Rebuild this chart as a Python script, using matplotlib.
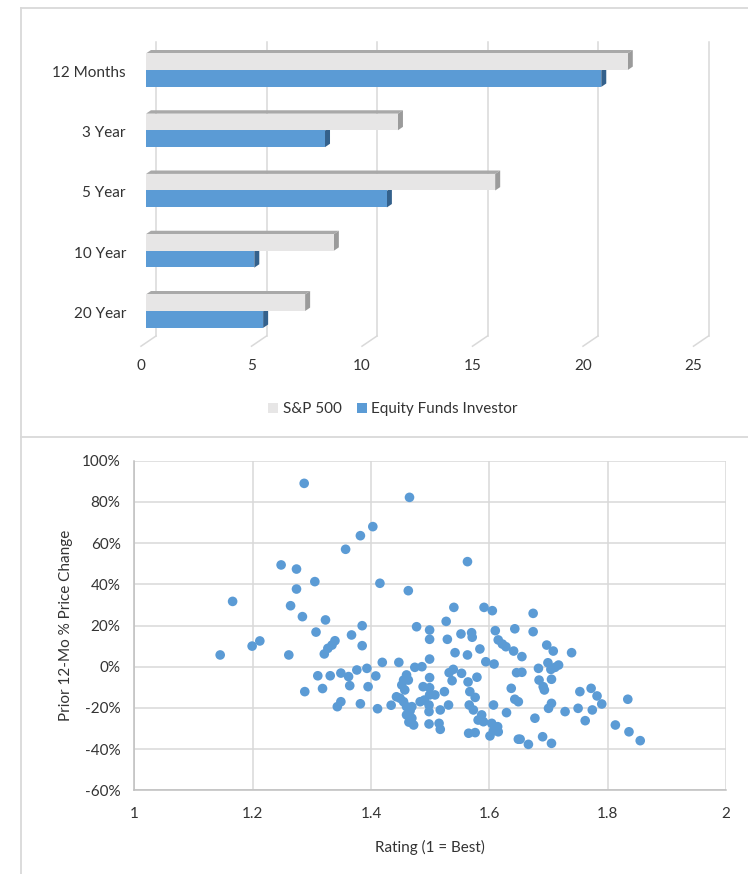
import matplotlib
matplotlib.use("Agg")
import matplotlib.pyplot as plt
from matplotlib.patches import Polygon, Patch
from matplotlib.lines import Line2D

plt.rcParams['font.family'] = ['Lato', 'DejaVu Sans']

# ---------------- data ----------------
periods = ["12 Months", "3 Year", "5 Year", "10 Year", "20 Year"]
sp500 = [21.8, 11.4, 15.8, 8.5, 7.2]
equity_investor = [20.6, 8.1, 10.9, 4.9, 5.3]
bar_ticks = [0, 5, 10, 15, 20, 25]

ratings = [
    1.287, 1.465, 1.403, 1.382, 1.357, 1.248, 1.274, 1.305, 1.415, 1.463,
    1.274, 1.166, 1.264, 1.284, 1.323, 1.385, 1.477, 1.307, 1.367, 1.339,
    1.334, 1.327, 1.321, 1.385, 1.199, 1.212, 1.145, 1.261, 1.288, 1.419,
    1.447, 1.310, 1.331, 1.349, 1.362, 1.376, 1.393, 1.408, 1.364, 1.395,
    1.318, 1.349, 1.343, 1.382, 1.411, 1.434, 1.474, 1.486, 1.460, 1.455,
    1.452, 1.457, 1.443, 1.449, 1.455, 1.460, 1.469, 1.460, 1.469, 1.472,
    1.483, 1.490, 1.488, 1.466, 1.463, 1.464, 1.499, 1.499, 1.540, 1.591,
    1.605, 1.527, 1.529, 1.552, 1.570, 1.571, 1.610, 1.643, 1.584, 1.542,
    1.563, 1.615, 1.622, 1.628, 1.641, 1.655, 1.499, 1.594, 1.608, 1.646,
    1.539, 1.532, 1.553, 1.499, 1.579, 1.537, 1.564, 1.499, 1.637, 1.524,
    1.508, 1.567, 1.576, 1.643, 1.531, 1.566, 1.607, 1.498, 1.498, 1.517,
    1.573, 1.587, 1.581, 1.590, 1.629, 1.498, 1.515, 1.517, 1.604, 1.614,
    1.607, 1.615, 1.601, 1.565, 1.576, 1.649, 1.499, 1.674, 1.674, 1.697,
    1.708, 1.739, 1.699, 1.711, 1.717, 1.704, 1.683, 1.655, 1.684, 1.691,
    1.693, 1.705, 1.753, 1.772, 1.782, 1.790, 1.649, 1.705, 1.700, 1.728,
    1.750, 1.774, 1.762, 1.677, 1.813, 1.652, 1.666, 1.690, 1.705, 1.834,
    1.836, 1.855, 1.563,
]
price_change = [
    89.0, 82.2, 68.0, 63.6, 57.0, 49.4, 47.4, 41.3, 40.5, 36.9,
    37.7, 31.7, 29.6, 24.3, 22.7, 19.9, 19.4, 16.8, 15.4, 12.6,
    10.5, 8.9, 6.2, 10.2, 10.0, 12.5, 5.7, 5.7, -12.1, 2.1,
    2.1, -4.4, -4.4, -3.1, -4.8, -1.6, -0.8, -4.5, -9.2, -9.7,
    -10.6, -17.0, -19.4, -18.0, -20.4, -18.7, -0.3, 0.0, -4.0, -6.5,
    -8.9, -11.3, -14.6, -15.3, -17.0, -19.4, -19.4, -23.4, -25.0, -28.3,
    -17.0, -16.2, -9.7, -21.4, -6.5, -26.9, 17.8, 13.3, 28.8, 28.8,
    27.2, 22.0, 13.3, 15.9, 16.5, 14.3, 17.5, 18.4, 8.6, 6.8,
    5.7, 13.0, 11.0, 9.7, 7.6, 4.9, 3.7, 2.4, 1.3, -2.9,
    -1.3, -2.9, -3.2, -5.3, -5.1, -6.8, -7.4, -10.2, -10.5, -12.1,
    -13.7, -12.1, -14.9, -15.8, -18.6, -18.6, -18.6, -18.6, -21.8, -21.0,
    -21.0, -23.4, -25.9, -26.7, -22.3, -27.8, -27.5, -30.4, -27.5, -29.1,
    -31.1, -31.6, -33.6, -32.3, -32.0, -35.2, -13.7, 25.9, 17.0, 10.5,
    7.6, 6.8, 1.9, -0.3, 0.8, -1.3, -0.8, -2.7, -6.5, -9.7,
    -11.3, -6.1, -12.1, -10.5, -14.2, -18.1, -17.0, -17.8, -20.2, -21.8,
    -20.2, -21.0, -26.2, -25.0, -28.3, -35.2, -37.7, -34.0, -37.2, -15.8,
    -31.6, -35.9, 51.0,
]
rating_ticks = [1, 1.2, 1.4, 1.6, 1.8, 2]
change_ticks = [-60, -40, -20, 0, 20, 40, 60, 80, 100]

# ---------------- styling ----------------
TEXT = "#333333"
GRID = "#d9d9d9"
BLUE = "#5b9bd5"
BLUE_SIDE = "#34618c"
GREY_FRONT = "#e7e6e6"
GREY_TOP = "#a9a9a9"
GREY_SIDE = "#9b9b9b"
FS = 11

W, H = 748, 874
fig = plt.figure(figsize=(W / 100, H / 100), dpi=100)


def fx(px):
    return px / W


def fy(py):
    return 1 - py / H


# panel borders
for (x0, y0, x1, y1) in [(21, 8, 748, 8), (21, 8, 21, 874), (21, 437, 748, 437)]:
    fig.add_artist(Line2D([fx(x0), fx(x1)], [fy(y0), fy(y1)], color=GRID, lw=1.3,
                          transform=fig.transFigure))

# ---------------- top: 3-D style clustered bars ----------------
top_px, bot_px = 40, 350
left_px, right_px = 146, 698.5
ax1 = fig.add_axes([fx(left_px), fy(bot_px), fx(right_px - left_px), (bot_px - top_px) / H])
ax1.set_xlim(0, 25)
px_per_x = (right_px - left_px) / 25.0
px_per_y = 60.25
first_center_px = 70
ax1.set_ylim((bot_px - first_center_px) / px_per_y, (top_px - first_center_px) / px_per_y)
ax1.axis("off")

# depth offset of the 3-D effect (in data units)
ddx = 5 / px_per_x
ddy = -3.4 / px_per_y
bh = 16.6 / px_per_y

# back-wall gridlines and floor
wall_top = (42 - first_center_px) / px_per_y
wall_bot = (336 - first_center_px) / px_per_y
for v in bar_ticks:
    xb = v + 2 * ddx
    ax1.plot([xb, xb], [wall_top, wall_bot], color=GRID, lw=1.1, clip_on=False, zorder=0)
    ax1.plot([xb, v - ddx], [wall_bot, wall_bot - 3 * ddy], color=GRID, lw=1.1,
             clip_on=False, zorder=0)
    ax1.text(v - ddx, (366 - first_center_px) / px_per_y, str(v), ha="center", va="center",
             fontsize=FS, color=TEXT, clip_on=False)

for i, (s, e) in enumerate(zip(sp500, equity_investor)):
    # investor bar (lower)
    y0, y1 = i + 0.005, i + 0.005 + bh
    ax1.add_patch(Polygon([(e, y0), (e, y1), (e + ddx, y1 + ddy), (e + ddx, y0 + ddy)],
                          closed=True, facecolor=BLUE_SIDE, edgecolor="none", zorder=2))
    ax1.barh(i, e, height=bh, left=0, align="edge", color=BLUE, zorder=3)
    # S&P bar (upper)
    t0, t1 = i - bh, i
    ax1.add_patch(Polygon([(0, t0), (s, t0), (s + ddx, t0 + ddy), (ddx, t0 + ddy)],
                          closed=True, facecolor=GREY_TOP, edgecolor="none", zorder=4))
    ax1.add_patch(Polygon([(s, t0), (s, t1), (s + ddx, t1 + ddy), (s + ddx, t0 + ddy)],
                          closed=True, facecolor=GREY_SIDE, edgecolor="none", zorder=4))
    ax1.barh(i - bh, s, height=bh, left=0, align="edge", color=GREY_FRONT, zorder=5)

for i, name in enumerate(periods):
    ax1.annotate(name, xy=(0, i), xycoords=("axes fraction", "data"),
                 xytext=(-20, -3), textcoords="offset pixels",
                 ha="right", va="center", fontsize=FS, color=TEXT, annotation_clip=False)

fig.legend(handles=[Patch(facecolor=GREY_FRONT, label="S&P 500"),
                    Patch(facecolor=BLUE, label="Equity Funds Investor")],
           loc="center", bbox_to_anchor=(fx(393), fy(409)), ncol=2, frameon=False,
           fontsize=FS, labelcolor=TEXT, handlelength=0.65, handleheight=0.65,
           handletextpad=0.3, columnspacing=1.0)

# ---------------- bottom: scatter ----------------
sl, sr, st, sb = 134.4, 726, 460.7, 790.3
ax2 = fig.add_axes([fx(sl), fy(sb), fx(sr - sl), (sb - st) / H])
ax2.scatter(ratings, price_change, s=48, color=BLUE, edgecolors="none", zorder=3)
ax2.set_xlim(1, 2)
ax2.set_ylim(-60, 100)
ax2.set_xticks(rating_ticks)
ax2.set_xticklabels([f"{t:g}" for t in rating_ticks])
ax2.set_yticks(change_ticks)
ax2.set_yticklabels([f"{t}%" for t in change_ticks])
ax2.grid(True, color=GRID, lw=1.1, zorder=0)
ax2.set_axisbelow(True)
for side in ["top", "right"]:
    ax2.spines[side].set_visible(False)
for side in ["left", "bottom"]:
    ax2.spines[side].set_color("#bfbfbf")
    ax2.spines[side].set_linewidth(1.1)
ax2.tick_params(axis="y", length=0, labelsize=FS, labelcolor=TEXT, pad=10)
ax2.tick_params(axis="x", length=0, labelsize=FS, labelcolor=TEXT, pad=12)
ax2.set_xlabel("Rating (1 = Best)", fontsize=FS, color=TEXT, labelpad=14)
ax2.set_ylabel("Prior 12-Mo % Price Change", fontsize=FS, color=TEXT, labelpad=6)

fig.savefig("out.png", dpi=100)
